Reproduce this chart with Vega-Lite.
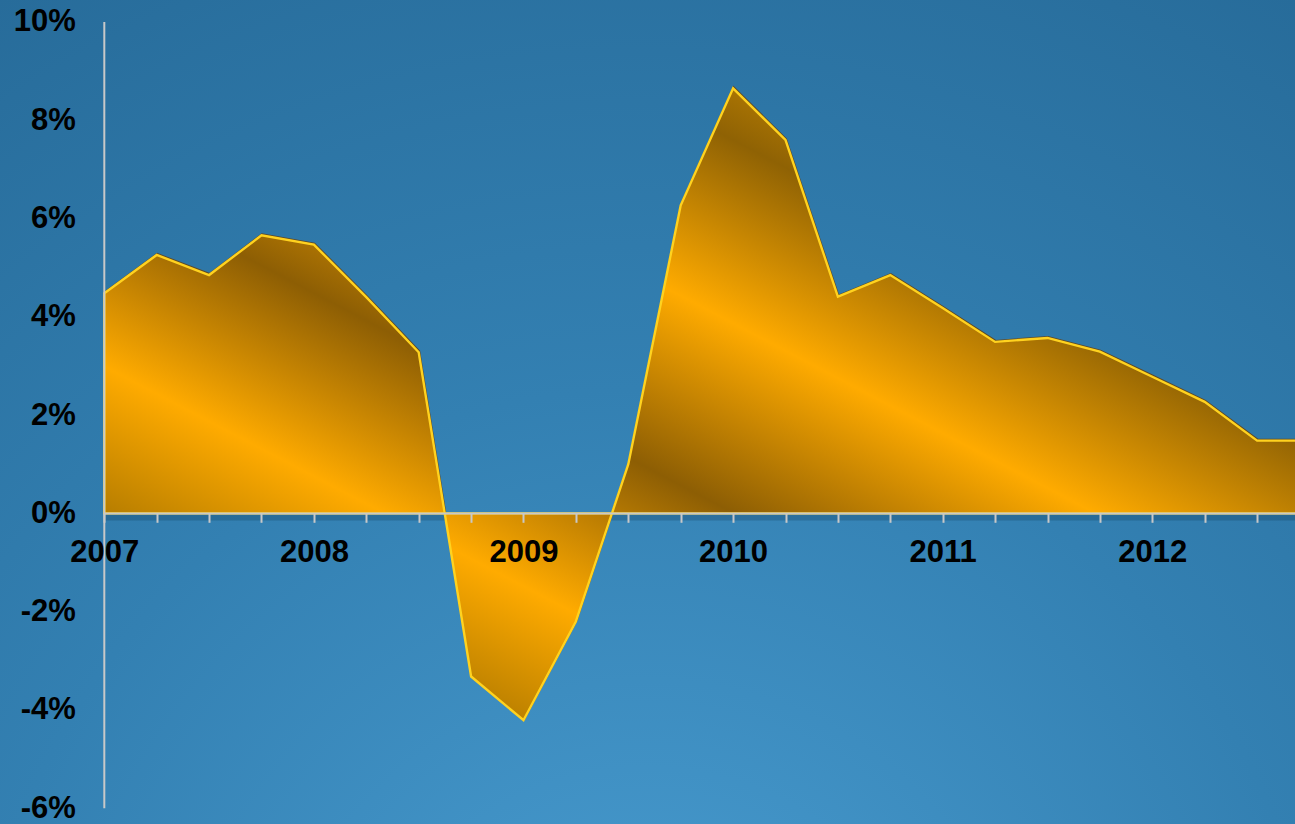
{
  "$schema": "https://vega.github.io/schema/vega-lite/v6.json",
  "width": 1295,
  "height": 824,
  "autosize": {"type": "none"},
  "padding": 0,
  "background": "#2a72a0",
  "config": {
    "view": {
      "stroke": null,
      "fill": {
        "gradient": "radial",
        "x1": 0.5, "y1": 1.0, "r1": 0,
        "x2": 0.5, "y2": 1.0, "r2": 1.15,
        "stops": [
          {"offset": 0, "color": "#4a9ed2"},
          {"offset": 0.45, "color": "#3380b2"},
          {"offset": 0.87, "color": "#266a98"},
          {"offset": 1, "color": "#1f5c88"}
        ]
      }
    },
    "axis": {
      "labelFont": "Liberation Sans",
      "labelFontWeight": "bold",
      "labelFontSize": 31,
      "labelColor": "#000000",
      "labelOverlap": false,
      "labelFlush": false,
      "labelBound": false,
      "grid": false,
      "domain": false,
      "title": null
    }
  },
  "data": {
    "values": [
      {"q": 2007.0, "g": 4.48},
      {"q": 2007.25, "g": 5.26},
      {"q": 2007.5, "g": 4.85},
      {"q": 2007.75, "g": 5.66},
      {"q": 2008.0, "g": 5.47},
      {"q": 2008.25, "g": 4.4},
      {"q": 2008.5, "g": 3.28},
      {"q": 2008.75, "g": -3.32},
      {"q": 2009.0, "g": -4.21},
      {"q": 2009.25, "g": -2.2},
      {"q": 2009.5, "g": 1.0},
      {"q": 2009.75, "g": 6.27},
      {"q": 2010.0, "g": 8.65},
      {"q": 2010.25, "g": 7.6},
      {"q": 2010.5, "g": 4.41},
      {"q": 2010.75, "g": 4.85},
      {"q": 2011.0, "g": 4.18},
      {"q": 2011.25, "g": 3.49},
      {"q": 2011.5, "g": 3.57},
      {"q": 2011.75, "g": 3.29},
      {"q": 2012.0, "g": 2.78},
      {"q": 2012.25, "g": 2.27},
      {"q": 2012.5, "g": 1.48},
      {"q": 2012.75, "g": 1.48}
    ]
  },
  "encoding": {
    "x": {
      "field": "q",
      "type": "quantitative",
      "scale": {"domain": [2006.5024, 2012.6808], "nice": false, "zero": false},
      "axis": {
        "values": [2007, 2007.25, 2007.5, 2007.75, 2008, 2008.25, 2008.5, 2008.75, 2009, 2009.25, 2009.5, 2009.75, 2010, 2010.25, 2010.5, 2010.75, 2011, 2011.25, 2011.5, 2011.75, 2012, 2012.25, 2012.5],
        "labelExpr": "datum.value % 1 == 0 ? format(datum.value, 'd') : ''",
        "offset": -310.7,
        "ticks": true,
        "tickSize": 9,
        "tickColor": "#c8c8c8",
        "tickWidth": 2,
        "labelPadding": 15,
        "zindex": 2
      }
    },
    "y": {
      "field": "g",
      "type": "quantitative",
      "scale": {"domain": [-6.3214, 10.4476], "nice": false, "zero": false},
      "axis": {
        "values": [-6, -4, -2, 0, 2, 4, 6, 8, 10],
        "labelExpr": "datum.value + '%'",
        "offset": -104.3,
        "ticks": false,
        "labelPadding": 29,
        "zindex": 2
      }
    }
  },
  "layer": [
    {
      "transform": [{"filter": "datum.q == 2007"}],
      "mark": {"type": "rule", "stroke": "#0c2f4c", "strokeWidth": 6, "strokeOpacity": 0.25, "yOffset": 4, "clip": true},
      "encoding": {
        "x": {"datum": 2007, "type": "quantitative"},
        "x2": {"datum": 2012.75},
        "y": {"datum": 0, "type": "quantitative"}
      }
    },
    {
      "mark": {"type": "line", "stroke": "#5e4a28", "strokeWidth": 2, "yOffset": -1, "xOffset": 0.5, "clip": true, "interpolate": "linear"}
    },
    {
      "mark": {
        "type": "area",
        "clip": true,
        "interpolate": "linear",
        "stroke": "#ffd21f",
        "strokeWidth": 2.4,
        "strokeJoin": "miter",
        "fill": {
          "gradient": "linear",
          "x1": 1, "y1": 0, "x2": 0, "y2": 1,
          "stops": [
            {"offset": 0.0, "color": "#c98a00"},
            {"offset": 0.13, "color": "#eea200"},
            {"offset": 0.28, "color": "#8f6204"},
            {"offset": 0.425, "color": "#ffab00"},
            {"offset": 0.575, "color": "#8d5e04"},
            {"offset": 0.72, "color": "#ffab00"},
            {"offset": 0.86, "color": "#a87400"},
            {"offset": 1.0, "color": "#c88900"}
          ]
        }
      },
      "encoding": {
        "y2": {"datum": 0}
      }
    },
    {
      "transform": [{"filter": "datum.q == 2007"}],
      "mark": {"type": "rule", "stroke": "#c8c8c8", "strokeWidth": 2, "clip": true},
      "encoding": {
        "x": {"datum": 2007, "type": "quantitative"},
        "x2": {"datum": 2012.75},
        "y": {"datum": 0, "type": "quantitative"}
      }
    },
    {
      "transform": [{"filter": "datum.q == 2007"}],
      "mark": {"type": "rule", "stroke": "#c8c8c8", "strokeWidth": 2},
      "encoding": {
        "x": {"datum": 2007, "type": "quantitative"},
        "y": {"datum": -6, "type": "quantitative"},
        "y2": {"datum": 10}
      }
    }
  ]
}
